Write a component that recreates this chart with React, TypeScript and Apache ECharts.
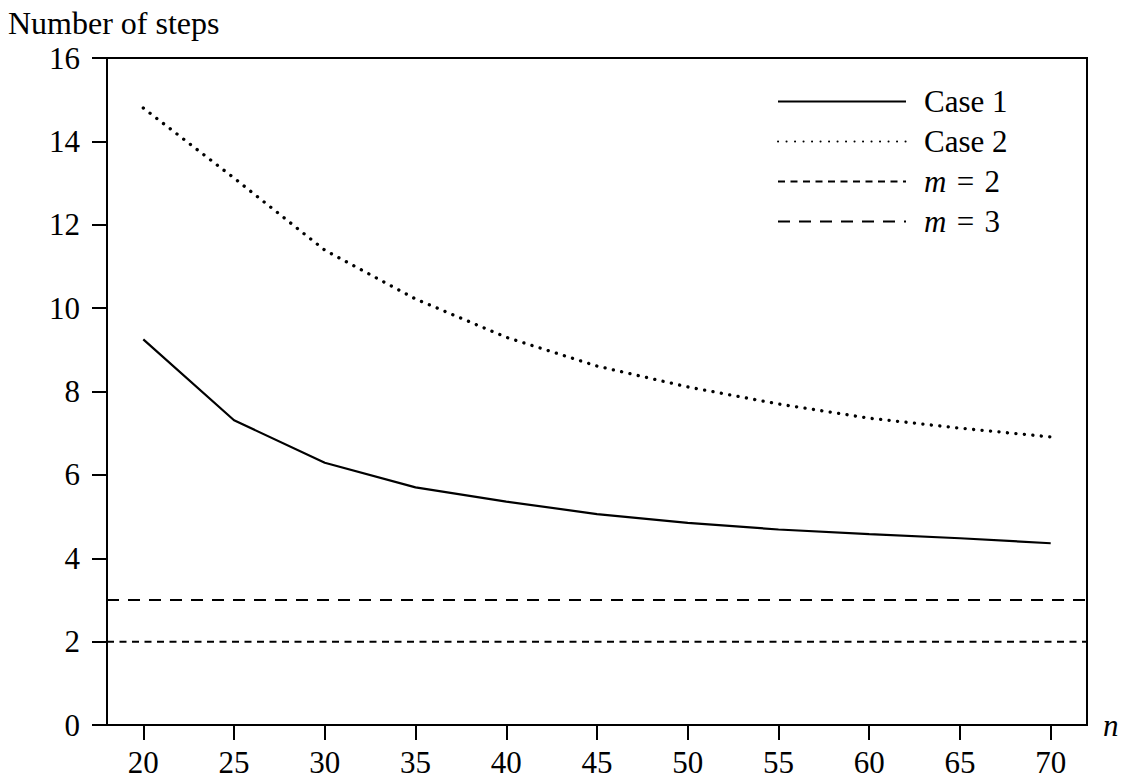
import React, { useEffect, useRef } from "react";
import * as echarts from "echarts";

const nValues = [20, 25, 30, 35, 40, 45, 50, 55, 60, 65, 70];
const case1 = [9.25, 7.31, 6.29, 5.7, 5.36, 5.06, 4.85, 4.69, 4.58, 4.48, 4.36];
const case2 = [14.8, 13.12, 11.39, 10.22, 9.3, 8.61, 8.11, 7.7, 7.36, 7.12, 6.91];
const m2Level = 2;
const m3Level = 3;
const xMin = 18;
const xMax = 72;
const yMin = 0;
const yMax = 16;
const yStep = 2;
const xTicks = [20, 25, 30, 35, 40, 45, 50, 55, 60, 65, 70];

const FONT = "'Liberation Serif', 'DejaVu Serif', serif";
const FS = 31;

export default function App() {
  const ref = useRef<HTMLDivElement>(null);
  useEffect(() => {
    if (!ref.current) return;
    const chart = echarts.init(ref.current, null, { renderer: "svg" });
    const pair = (ys: number[]) => nValues.map((x, i) => [x, ys[i]]);
    const hLine = (v: number) => [
      [xMin, v],
      [xMax, v],
    ];
    chart.setOption({
      animation: false,
      backgroundColor: "#fff",
      textStyle: { fontFamily: FONT, color: "#000" },
      title: {
        text: "Number of steps",
        left: 3,
        top: 2,
        textStyle: { fontFamily: FONT, fontSize: 32, fontWeight: "normal", color: "#000" },
      },
      grid: {
        left: 107,
        right: 46,
        top: 58,
        bottom: 56,
        show: true,
        borderColor: "#000",
        borderWidth: 2,
        backgroundColor: "transparent",
        outerBoundsMode: "none",
      },
      legend: {
        orient: "vertical",
        left: 772,
        top: 81,
        itemWidth: 128,
        itemHeight: 22,
        itemGap: 9,
        data: ["Case 1", "Case 2", "m = 2", "m = 3"],
        itemStyle: { opacity: 0, color: "transparent", borderWidth: 0 },
        formatter: (name: string) =>
          name.startsWith("m")
            ? `{i|m}{r|\u2004=\u2004${name.slice(name.length - 1)}}`
            : `{r|${name}}`,
        textStyle: {
          fontFamily: FONT,
          fontSize: FS,
          color: "#000",
          padding: [0, 0, 0, 13],
          rich: {
            i: { fontFamily: FONT, fontSize: FS, fontStyle: "italic", color: "#000" },
            r: { fontFamily: FONT, fontSize: FS, color: "#000" },
          },
        },
      },
      xAxis: {
        type: "value",
        min: xMin,
        max: xMax,
        name: "n",
        nameLocation: "end",
        nameGap: 16,
        nameTextStyle: { fontFamily: FONT, fontSize: FS, fontStyle: "italic", color: "#000" },
        axisLine: { onZero: false, lineStyle: { color: "#000", width: 2 } },
        axisTick: { show: true, inside: false, length: 15, customValues: xTicks, lineStyle: { color: "#000", width: 2 } },
        axisLabel: { customValues: xTicks, margin: 22, fontFamily: FONT, fontSize: FS, color: "#000" },
        splitLine: { show: false },
      },
      yAxis: {
        type: "value",
        min: yMin,
        max: yMax,
        interval: yStep,
        axisLine: { show: true, lineStyle: { color: "#000", width: 2 } },
        axisTick: { show: true, inside: false, length: 15, lineStyle: { color: "#000", width: 2 } },
        axisLabel: { margin: 27, fontFamily: FONT, fontSize: FS, color: "#000" },
        splitLine: { show: false },
      },
      series: [
        {
          name: "Case 1",
          type: "line",
          data: pair(case1),
          symbol: "none",
          lineStyle: { color: "#000", width: 2.2, type: "solid" },
          itemStyle: { color: "#000" },
        },
        {
          name: "Case 2",
          type: "line",
          data: pair(case2),
          symbol: "none",
          lineStyle: { color: "#000", width: 3.3, type: [0.1, 8.4], cap: "round" },
          itemStyle: { color: "#000" },
        },
        {
          name: "m = 2",
          type: "line",
          data: hLine(m2Level),
          symbol: "none",
          lineStyle: { color: "#000", width: 2, type: [7, 5.5] },
          itemStyle: { color: "#000" },
        },
        {
          name: "m = 3",
          type: "line",
          data: hLine(m3Level),
          symbol: "none",
          lineStyle: { color: "#000", width: 2, type: [12, 9] },
          itemStyle: { color: "#000" },
        },
      ],
    });
    return () => chart.dispose();
  }, []);
  return <div ref={ref} style={{ width: 1133, height: 781, margin: -8 }} />;
}
